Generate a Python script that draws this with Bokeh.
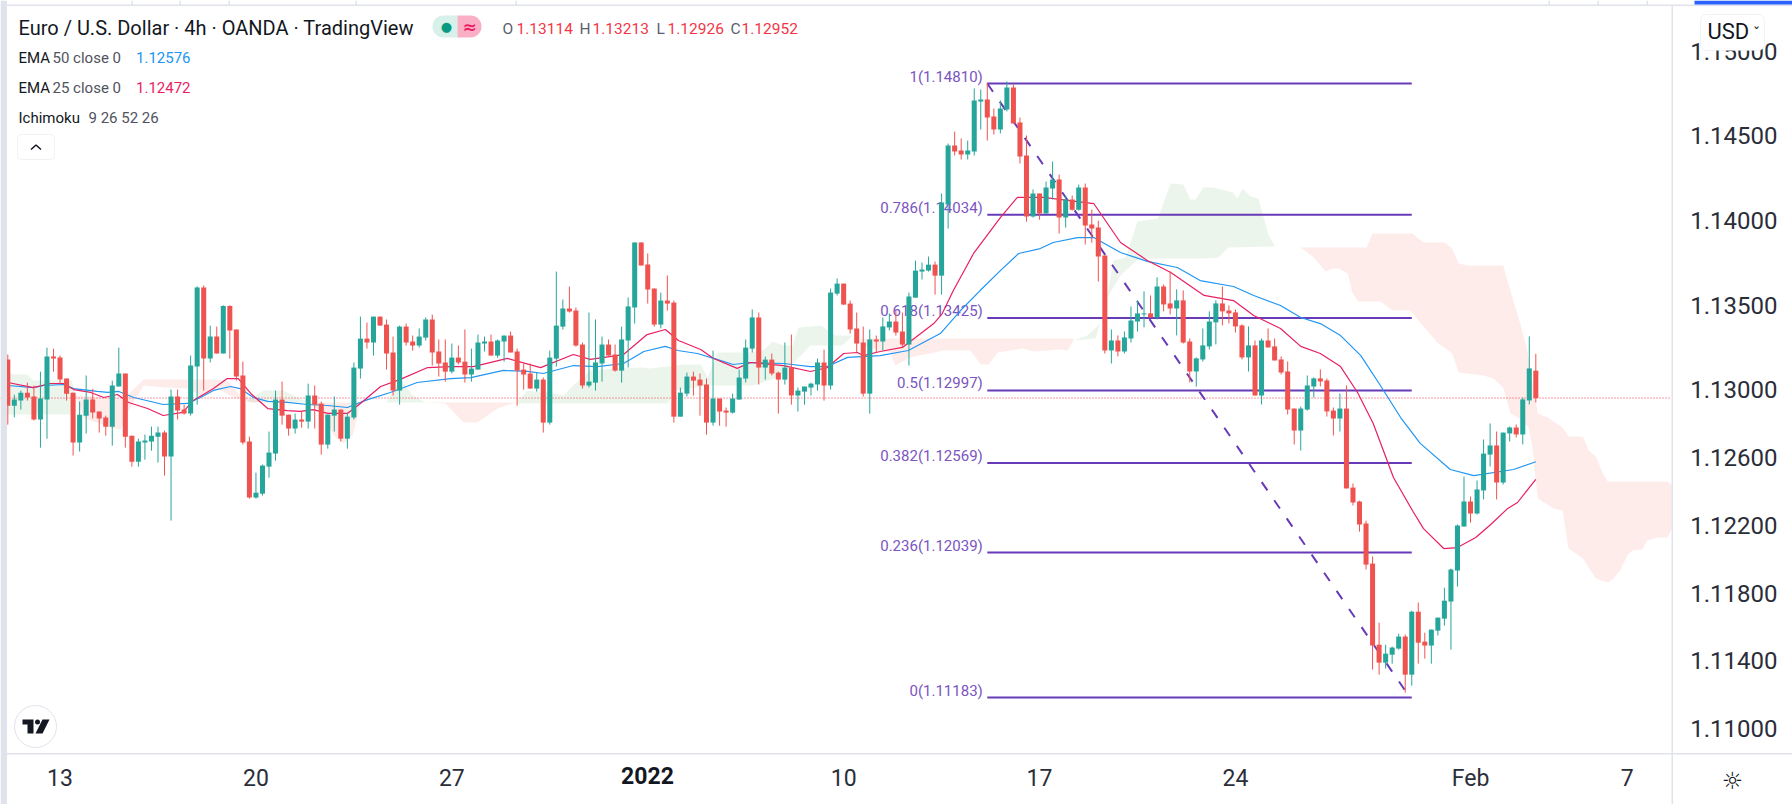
import numpy as np
from bokeh.core.properties import value
from bokeh.embed import file_html
from bokeh.models import BoxAnnotation, FixedTicker, Label, LinearAxis, NumeralTickFormatter, Range1d
from bokeh.plotting import figure
from bokeh.resources import INLINE

UP_COLOUR = "#26a69a"
DOWN_COLOUR = "#ef5350"
FIB_COLOUR = "#673ab7"
EDGE_COLOUR = "#e0e3eb"
TEXT_COLOUR = "#131722"
MUTED_COLOUR = "#50535e"
FONT = "Roboto"

opens = [
    1.13179, 1.12907, 1.12937, 1.12984, 1.12961, 1.12825, 1.12943, 1.13197, 1.13191, 1.13067,
    1.12984, 1.12689, 1.12848, 1.12943, 1.12872, 1.12837, 1.12783, 1.13020, 1.13097, 1.12730,
    1.12576, 1.12689, 1.12695, 1.12724, 1.12748, 1.12606, 1.12961, 1.12884, 1.12860, 1.13138,
    1.13605, 1.13185, 1.13315, 1.13215, 1.13495, 1.13357, 1.13085, 1.12695, 1.12364, 1.12387,
    1.12547, 1.12624, 1.12943, 1.12854, 1.12772, 1.12825, 1.12813, 1.12967, 1.12919, 1.12677,
    1.12848, 1.12884, 1.12712, 1.12837, 1.13126, 1.13303, 1.13280, 1.13433, 1.13386, 1.13221,
    1.12996, 1.13374, 1.13286, 1.13262, 1.13309, 1.13416, 1.13227, 1.13162, 1.13108, 1.13191,
    1.13167, 1.13091, 1.13120, 1.13274, 1.13286, 1.13203, 1.13286, 1.13321, 1.13227, 1.13120,
    1.13097, 1.13008, 1.13061, 1.12807, 1.13185, 1.13374, 1.13481, 1.13469, 1.13268, 1.13026,
    1.13043, 1.13156, 1.13268, 1.13209, 1.13114, 1.13292, 1.13487, 1.13871, 1.13741, 1.13599,
    1.13386, 1.13528, 1.13516, 1.12842, 1.12978, 1.13079, 1.13061, 1.13032, 1.12807, 1.12949,
    1.12878, 1.12866, 1.12943, 1.13067, 1.13244, 1.13428, 1.13132, 1.13179, 1.13102, 1.13061,
    1.13132, 1.12967, 1.12990, 1.13014, 1.13032, 1.13162, 1.13026, 1.13569, 1.13628, 1.13510,
    1.13363, 1.13280, 1.12978, 1.13298, 1.13286, 1.13369, 1.13404, 1.13345, 1.13268, 1.13545,
    1.13699, 1.13705, 1.13740, 1.13675, 1.14095, 1.14444, 1.14414, 1.14390, 1.14408, 1.14704,
    1.14716, 1.14615, 1.14538, 1.14656, 1.14786, 1.14580, 1.14385, 1.14024, 1.14160, 1.14042,
    1.14190, 1.14243, 1.14018, 1.14125, 1.14065, 1.14195, 1.13977, 1.13959, 1.13794, 1.13233,
    1.13292, 1.13227, 1.13304, 1.13404, 1.13446, 1.13452, 1.13428, 1.13611, 1.13511, 1.13481,
    1.13529, 1.13286, 1.13109, 1.13180, 1.13257, 1.13399, 1.13511, 1.13469, 1.13458, 1.13381,
    1.13192, 1.13263, 1.12967, 1.13292, 1.13257, 1.13180, 1.13109, 1.12890, 1.12760, 1.12884,
    1.13020, 1.13068, 1.13056, 1.12878, 1.12831, 1.12890, 1.12423, 1.12341, 1.12211, 1.11974,
    1.11495, 1.11389, 1.11436, 1.11472, 1.11543, 1.11318, 1.11690, 1.11513, 1.11490, 1.11578,
    1.11649, 1.11750, 1.11933, 1.12193, 1.12341, 1.12270, 1.12406, 1.12618, 1.12672, 1.12453,
    1.12743, 1.12778, 1.12737, 1.12938, 1.13114,
]
highs = [
    1.13209, 1.12972, 1.12996, 1.13043, 1.13026, 1.13108, 1.13250, 1.13244, 1.13203, 1.13067,
    1.12984, 1.12931, 1.13085, 1.13006, 1.12872, 1.12848, 1.13055, 1.13250, 1.13097, 1.12730,
    1.12712, 1.12736, 1.12783, 1.12783, 1.12760, 1.13002, 1.13002, 1.12913, 1.13203, 1.13612,
    1.13617, 1.13380, 1.13374, 1.13500, 1.13500, 1.13357, 1.13167, 1.12724, 1.12511, 1.12559,
    1.12754, 1.12996, 1.13049, 1.12854, 1.12860, 1.12872, 1.13037, 1.13026, 1.12931, 1.12854,
    1.12961, 1.12884, 1.12866, 1.13162, 1.13433, 1.13398, 1.13433, 1.13433, 1.13416, 1.13315,
    1.13380, 1.13392, 1.13321, 1.13363, 1.13428, 1.13445, 1.13298, 1.13298, 1.13274, 1.13262,
    1.13357, 1.13244, 1.13327, 1.13315, 1.13327, 1.13298, 1.13321, 1.13345, 1.13244, 1.13156,
    1.13156, 1.13102, 1.13073, 1.13232, 1.13699, 1.13534, 1.13611, 1.13487, 1.13280, 1.13457,
    1.13416, 1.13315, 1.13298, 1.13268, 1.13374, 1.13546, 1.13871, 1.13871, 1.13806, 1.13599,
    1.13575, 1.13676, 1.13528, 1.13014, 1.13102, 1.13108, 1.13097, 1.13067, 1.13232, 1.12949,
    1.12896, 1.12978, 1.13120, 1.13298, 1.13475, 1.13457, 1.13197, 1.13215, 1.13108, 1.13280,
    1.13327, 1.13014, 1.13020, 1.13043, 1.13185, 1.13238, 1.13599, 1.13658, 1.13628, 1.13528,
    1.13457, 1.13374, 1.13357, 1.13321, 1.13428, 1.13451, 1.13469, 1.13457, 1.13575, 1.13764,
    1.13752, 1.13788, 1.13758, 1.14160, 1.14455, 1.14526, 1.14485, 1.14473, 1.14781, 1.14775,
    1.14816, 1.14662, 1.14710, 1.14822, 1.14804, 1.14609, 1.14503, 1.14184, 1.14160, 1.14231,
    1.14349, 1.14272, 1.14148, 1.14148, 1.14213, 1.14219, 1.14065, 1.14000, 1.13794, 1.13357,
    1.13322, 1.13345, 1.13493, 1.13529, 1.13582, 1.13558, 1.13665, 1.13623, 1.13700, 1.13594,
    1.13588, 1.13304, 1.13192, 1.13363, 1.13464, 1.13529, 1.13611, 1.13499, 1.13475, 1.13387,
    1.13375, 1.13292, 1.13304, 1.13363, 1.13304, 1.13198, 1.13168, 1.12890, 1.12902, 1.13085,
    1.13074, 1.13121, 1.13068, 1.12896, 1.12979, 1.13026, 1.12447, 1.12346, 1.12228, 1.12016,
    1.11625, 1.11495, 1.11484, 1.11560, 1.11555, 1.11696, 1.11744, 1.11566, 1.11584, 1.11655,
    1.11832, 1.11945, 1.12205, 1.12488, 1.12370, 1.12465, 1.12707, 1.12802, 1.12754, 1.12748,
    1.12784, 1.12796, 1.12955, 1.13316, 1.13213,
]
lows = [
    1.12795, 1.12838, 1.12884, 1.12937, 1.12819, 1.12659, 1.12712, 1.13108, 1.13037, 1.12937,
    1.12612, 1.12636, 1.12742, 1.12831, 1.12748, 1.12730, 1.12671, 1.13020, 1.12659, 1.12547,
    1.12547, 1.12588, 1.12641, 1.12571, 1.12494, 1.12228, 1.12825, 1.12854, 1.12848, 1.12913,
    1.12996, 1.13162, 1.13215, 1.13215, 1.13185, 1.13055, 1.12677, 1.12358, 1.12358, 1.12376,
    1.12482, 1.12582, 1.12795, 1.12730, 1.12742, 1.12777, 1.12772, 1.12772, 1.12618, 1.12653,
    1.12754, 1.12695, 1.12653, 1.12825, 1.13067, 1.13244, 1.13203, 1.13380, 1.13120, 1.12967,
    1.12913, 1.13262, 1.13232, 1.13250, 1.13292, 1.13144, 1.13079, 1.13049, 1.13097, 1.13150,
    1.13043, 1.13049, 1.13120, 1.13227, 1.13203, 1.13191, 1.13167, 1.13221, 1.12907, 1.13002,
    1.13008, 1.12990, 1.12748, 1.12795, 1.13138, 1.13357, 1.13457, 1.13256, 1.13008, 1.13014,
    1.12996, 1.13049, 1.13203, 1.13108, 1.13043, 1.13132, 1.13392, 1.13735, 1.13510, 1.13374,
    1.13363, 1.13469, 1.12807, 1.12842, 1.12961, 1.12967, 1.12848, 1.12736, 1.12789, 1.12789,
    1.12783, 1.12860, 1.12943, 1.13043, 1.13221, 1.13032, 1.13061, 1.13085, 1.12860, 1.13032,
    1.12913, 1.12872, 1.12913, 1.12967, 1.12996, 1.12937, 1.13002, 1.13558, 1.13504, 1.13333,
    1.13221, 1.12961, 1.12860, 1.13221, 1.13233, 1.13351, 1.13321, 1.13251, 1.13144, 1.13545,
    1.13652, 1.13699, 1.13563, 1.13563, 1.13953, 1.14385, 1.14361, 1.14361, 1.14385, 1.14538,
    1.14473, 1.14509, 1.14515, 1.14645, 1.14574, 1.14337, 1.13994, 1.14018, 1.14006, 1.14042,
    1.14125, 1.13924, 1.13959, 1.14059, 1.14059, 1.13859, 1.13870, 1.13640, 1.13215, 1.13156,
    1.13198, 1.13215, 1.13280, 1.13345, 1.13369, 1.13428, 1.13416, 1.13464, 1.13446, 1.13322,
    1.13274, 1.13044, 1.13020, 1.13168, 1.13239, 1.13269, 1.13381, 1.13393, 1.13339, 1.13180,
    1.13109, 1.12967, 1.12914, 1.13251, 1.13174, 1.13091, 1.12855, 1.12678, 1.12642, 1.12878,
    1.12955, 1.13020, 1.12843, 1.12731, 1.12754, 1.12418, 1.12317, 1.12163, 1.11939, 1.11348,
    1.11318, 1.11354, 1.11383, 1.11466, 1.11212, 1.11253, 1.11383, 1.11413, 1.11383, 1.11549,
    1.11608, 1.11466, 1.11838, 1.12193, 1.12216, 1.12264, 1.12353, 1.12548, 1.12353, 1.12441,
    1.12695, 1.12719, 1.12678, 1.12914, 1.12926,
]
closes = [
    1.12907, 1.12943, 1.12984, 1.12955, 1.12825, 1.12949, 1.13197, 1.13185, 1.13061, 1.12978,
    1.12689, 1.12854, 1.12943, 1.12866, 1.12831, 1.12783, 1.13026, 1.13097, 1.12724, 1.12576,
    1.12695, 1.12701, 1.12730, 1.12748, 1.12606, 1.12961, 1.12878, 1.12860, 1.13144, 1.13605,
    1.13185, 1.13315, 1.13215, 1.13495, 1.13351, 1.13079, 1.12689, 1.12364, 1.12393, 1.12553,
    1.12630, 1.12943, 1.12848, 1.12772, 1.12825, 1.12813, 1.12967, 1.12913, 1.12677, 1.12854,
    1.12884, 1.12712, 1.12842, 1.13132, 1.13303, 1.13280, 1.13433, 1.13380, 1.13215, 1.12996,
    1.13374, 1.13280, 1.13262, 1.13315, 1.13416, 1.13221, 1.13156, 1.13108, 1.13191, 1.13162,
    1.13091, 1.13126, 1.13280, 1.13286, 1.13203, 1.13292, 1.13321, 1.13221, 1.13114, 1.13091,
    1.13008, 1.13061, 1.12807, 1.13191, 1.13380, 1.13481, 1.13463, 1.13262, 1.13026, 1.13049,
    1.13162, 1.13268, 1.13203, 1.13114, 1.13298, 1.13493, 1.13871, 1.13735, 1.13593, 1.13386,
    1.13528, 1.13510, 1.12842, 1.12984, 1.13079, 1.13055, 1.13026, 1.12807, 1.12949, 1.12872,
    1.12866, 1.12949, 1.13073, 1.13250, 1.13428, 1.13132, 1.13179, 1.13097, 1.13061, 1.13132,
    1.12967, 1.12996, 1.13020, 1.13037, 1.13162, 1.13026, 1.13575, 1.13628, 1.13504, 1.13357,
    1.13274, 1.12978, 1.13298, 1.13286, 1.13375, 1.13404, 1.13339, 1.13268, 1.13552, 1.13705,
    1.13711, 1.13740, 1.13675, 1.14107, 1.14444, 1.14408, 1.14390, 1.14414, 1.14710, 1.14716,
    1.14609, 1.14538, 1.14662, 1.14786, 1.14574, 1.14379, 1.14024, 1.14160, 1.14042, 1.14195,
    1.14243, 1.14018, 1.14125, 1.14065, 1.14195, 1.13971, 1.13953, 1.13788, 1.13233, 1.13292,
    1.13227, 1.13310, 1.13410, 1.13452, 1.13452, 1.13428, 1.13611, 1.13505, 1.13481, 1.13529,
    1.13280, 1.13109, 1.13186, 1.13263, 1.13404, 1.13511, 1.13464, 1.13452, 1.13375, 1.13192,
    1.13263, 1.12967, 1.13292, 1.13251, 1.13174, 1.13103, 1.12884, 1.12760, 1.12890, 1.13026,
    1.13068, 1.13050, 1.12873, 1.12831, 1.12890, 1.12418, 1.12335, 1.12205, 1.11968, 1.11490,
    1.11389, 1.11442, 1.11478, 1.11543, 1.11318, 1.11690, 1.11507, 1.11490, 1.11584, 1.11655,
    1.11755, 1.11939, 1.12199, 1.12341, 1.12270, 1.12412, 1.12624, 1.12672, 1.12453, 1.12748,
    1.12778, 1.12737, 1.12944, 1.13127, 1.12952,
]

ema50_x = [
    0, 3.9, 5.5, 8.5, 10.1, 13.7, 15.3, 17, 19.3, 23.8, 27.5, 29.5, 31.5, 34.1, 35.6, 37.6, 39.8,
    42.8, 45.9, 49, 52, 55.1, 58.6, 62.7, 67.8, 70.9, 75.9, 79.6, 82, 86.6, 90.3, 94.3, 97.4,
    100.7, 102.6, 105.6, 108.1, 111.1, 113.7, 118.8, 122.9, 125.5, 128.6, 133.6, 137.9, 142.8,
    145.9, 148.9, 152, 154.8, 158.1, 160.1, 163.8, 166.3, 170.4, 174.5, 179.1, 182.6, 187.7,
    190.8, 194.9, 198, 201, 204.1, 207.2, 210.2, 213.3, 216.3, 220.9, 224.5, 230.6, 234,
]
ema50_y = [
    1.13026, 1.13014, 1.13026, 1.13032, 1.13008, 1.12991, 1.12985, 1.12991, 1.12955, 1.12914,
    1.12920, 1.12955, 1.12997, 1.13020, 1.13008, 1.12955, 1.12932, 1.12926, 1.12914, 1.12908,
    1.12896, 1.12943, 1.12985, 1.13044, 1.13067, 1.13073, 1.13115, 1.13109, 1.13097, 1.13144,
    1.13138, 1.13156, 1.13227, 1.13257, 1.13233, 1.13215, 1.13186, 1.13150, 1.13162, 1.13156,
    1.13138, 1.13138, 1.13192, 1.13203, 1.13233, 1.13333, 1.13469, 1.13587, 1.13705, 1.13806,
    1.13835, 1.13871, 1.13900, 1.13900, 1.13812, 1.13759, 1.13723, 1.13646, 1.13611, 1.13558,
    1.13499, 1.13428, 1.13392, 1.13321, 1.13203, 1.13026, 1.12837, 1.12684, 1.12530, 1.12494,
    1.12530, 1.12576,
]
ema25_x = [
    0, 3.9, 6.5, 8.5, 10.1, 12.7, 14.7, 16.8, 18.5, 21.4, 23.8, 26.8, 28.4, 31.5, 33.6, 35.3,
    37.2, 39.8, 42.8, 44.8, 46.8, 49, 52, 54, 57.1, 60.1, 64.3, 67.8, 71.3, 76.5, 81.6, 86.6,
    89.2, 94.3, 97.9, 100.7, 102.7, 106.1, 108.1, 111.7, 113.7, 118.8, 122.9, 125.5, 128, 130.1,
    131, 133.6, 137, 141.8, 143.1, 144.8, 147.9, 152, 154.6, 158.6, 166.3, 170.4, 174.5, 178.1,
    183.2, 187.7, 190.8, 194.9, 198, 201, 204.1, 206.7, 209.1, 212.2, 215.1, 216.8, 219.9, 222,
    224.8, 227.1, 229.7, 231.2, 234,
]
ema25_y = [
    1.13044, 1.13014, 1.13038, 1.13038, 1.13002, 1.12985, 1.12955, 1.12973, 1.12926, 1.12890,
    1.12849, 1.12867, 1.12938, 1.13008, 1.13067, 1.13067, 1.12979, 1.12890, 1.12878, 1.12873,
    1.12884, 1.12861, 1.12861, 1.12920, 1.13020, 1.13062, 1.13132, 1.13138, 1.13138, 1.13186,
    1.13132, 1.13209, 1.13180, 1.13209, 1.13327, 1.13357, 1.13292, 1.13239, 1.13186, 1.13127,
    1.13162, 1.13144, 1.13109, 1.13132, 1.13215, 1.13221, 1.13203, 1.13227, 1.13251, 1.13392,
    1.13451, 1.13587, 1.13806, 1.14018, 1.14137, 1.14137, 1.14101, 1.13871, 1.13765, 1.13694,
    1.13558, 1.13528, 1.13440, 1.13363, 1.13257, 1.13215, 1.13138, 1.12985, 1.12802, 1.12483,
    1.12288, 1.12181, 1.12063, 1.12069, 1.12128, 1.12205, 1.12300, 1.12335, 1.12472,
]

# ichimoku cloud outlines, bar index against price
green_1_x = [0, 0.9, 3, 3.9, 9.8, 10.4, 9.6, 0]
green_1_y = [1.13103, 1.13091, 1.13091, 1.13056, 1.13056, 1.12967, 1.12855, 1.12855]
pink_1_x = [10.4, 16.5, 18, 20.8, 31.7, 33.8, 35.6, 39, 37.6, 34.6, 32.1, 29.5, 28, 23.8, 20.8, 18.5, 17.3, 15.7, 14.2, 11.7]
pink_1_y = [
    1.12967, 1.12955, 1.12955, 1.13062, 1.13062, 1.13050, 1.12967, 1.12932, 1.12926, 1.12955,
    1.13008, 1.12955, 1.13008, 1.13014, 1.13026, 1.12878, 1.12766, 1.12778, 1.12802, 1.12831,
]
green_2_x = [36.7, 39.2, 42.2, 43.8, 45.9, 36.7]
green_2_y = [1.12938, 1.12997, 1.12997, 1.12967, 1.12926, 1.12926]
pink_2_x = [45.9, 54, 53.6, 52.8, 51.4, 49.9, 47.9]
pink_2_y = [1.12926, 1.12926, 1.12849, 1.12731, 1.12684, 1.12731, 1.12878]
green_3_x = [58, 60.1, 62, 64]
green_3_y = [1.12926, 1.13067, 1.12967, 1.12926]
pink_3_x = [64, 78.1, 77.3, 75, 71.9, 69.8, 67]
pink_3_y = [1.12926, 1.12926, 1.12920, 1.12890, 1.12808, 1.12808, 1.12920]
green_4_x = [
    78.1, 79.6, 81.6, 83.1, 85.1, 86.6, 89.2, 93.4, 97.3, 98.4, 103.5, 106.1, 107.2, 108.7, 113.7,
    115.7, 117.1, 118.8, 120.2, 121.1, 124.5, 126.8, 129.4, 127.8, 122.9, 120.3, 117.9, 114.2,
    107.2, 102.3, 101, 78.1,
]
green_4_y = [
    1.12938, 1.12997, 1.12985, 1.12985, 1.12967, 1.13026, 1.13115, 1.13127, 1.13132, 1.13127,
    1.13150, 1.13150, 1.13073, 1.13221, 1.13221, 1.13233, 1.13286, 1.13262, 1.13262, 1.13369,
    1.13381, 1.13321, 1.13321, 1.13262, 1.13262, 1.13156, 1.13073, 1.13026, 1.13026, 1.12997,
    1.12920, 1.12920,
]
pink_4_x = [130.6, 163.2, 163.2, 162.3, 161.2, 157.1, 155.5, 151.6, 150.2, 149, 147.4, 143.3, 138.2, 135.9, 135.2, 133.6, 130.6]
pink_4_y = [
    1.13304, 1.13304, 1.13292, 1.13233, 1.13239, 1.13227, 1.13245, 1.13221, 1.13150, 1.13150,
    1.13233, 1.13233, 1.13192, 1.13144, 1.13221, 1.13233, 1.13262,
]
green_5_x = [
    163.2, 165.3, 167.3, 168.6, 169.3, 171.2, 173, 176.1, 178.1, 180, 181.1, 181.9, 183.1, 184.6,
    187.6, 188.3, 189.1, 190.3, 191.5, 193.1, 194.1, 186.9, 185.4, 183.1, 173.2, 170.4, 168.4, 166.6,
]
green_5_y = [
    1.13292, 1.13321, 1.13392, 1.13605, 1.13765, 1.13782, 1.13995, 1.14013, 1.14219, 1.14213,
    1.14125, 1.14125, 1.14196, 1.14196, 1.14166, 1.14131, 1.14190, 1.14143, 1.14131, 1.13912,
    1.13847, 1.13841, 1.13782, 1.13776, 1.13776, 1.13676, 1.13546, 1.13304,
]
pink_5_x = [
    194.1, 208.1, 209, 215.1, 216.8, 220, 221.2, 222.2, 223.5, 229, 230.1, 231.6, 232.7, 234.3,
    235.8, 238.1, 239, 241.2, 242.1, 243.2, 244.2, 245, 254.2, 254.9, 254.9, 254.2, 252.6, 251.1,
    250.3, 248.8, 248, 246.9, 245.9, 245, 243.2, 241.2, 239, 238.1, 236.7, 234.3, 234, 233.5,
    232.9, 231.3, 230.1, 229, 227.5, 226, 222.2, 221.2, 218.9, 216.3, 214.8, 212.1, 210.2, 206.8,
    205.9, 205.2, 203.8, 202.9, 201.8, 200, 198,
]
pink_5_y = [
    1.13841, 1.13841, 1.13924, 1.13924, 1.13871, 1.13871, 1.13835, 1.13747, 1.13735, 1.13735,
    1.13587, 1.13392, 1.13233, 1.12861, 1.12837, 1.12778, 1.12725, 1.12725, 1.12642, 1.12607,
    1.12512, 1.12459, 1.12459, 1.12435, 1.12187, 1.12128, 1.12128, 1.12111, 1.12057, 1.12051,
    1.12022, 1.11933, 1.11886, 1.11862, 1.11886, 1.12004, 1.12063, 1.12288, 1.12300, 1.12359,
    1.12465, 1.12660, 1.12778, 1.12837, 1.12861, 1.13014, 1.13067, 1.13085, 1.13103, 1.13215,
    1.13280, 1.13398, 1.13469, 1.13469, 1.13522, 1.13522, 1.13575, 1.13688, 1.13717, 1.13717,
    1.13700, 1.13782, 1.13841,
]
green_clouds = [(green_1_x, green_1_y), (green_2_x, green_2_y), (green_3_x, green_3_y), (green_4_x, green_4_y), (green_5_x, green_5_y)]
pink_clouds = [(pink_1_x, pink_1_y), (pink_2_x, pink_2_y), (pink_3_x, pink_3_y), (pink_4_x, pink_4_y), (pink_5_x, pink_5_y)]

fib_ratios = ["1", "0.786", "0.618", "0.5", "0.382", "0.236", "0"]
fib_prices = [1.14810, 1.14034, 1.13425, 1.12997, 1.12569, 1.12039, 1.11183]
fib_start = 150
fib_end = 215
trend_x = [150, 214]
trend_y = [1.14810, 1.11224]

y_ticks = [1.11, 1.114, 1.118, 1.122, 1.126, 1.13, 1.135, 1.14, 1.145, 1.15]
x_ticks = [8, 38, 68, 128, 158, 188, 224, 248]
x_tick_labels = ["13", "20", "27", "10", "17", "24", "Feb", "7"]
year_label = "2022"


# helpers for page furniture placed by window pixel, the price scale is linear
def sx(px):
    return (px - 7.3) / 6.53


def sy(py):
    return 1.11 + (728 - py) / 16929


def text(p, px, py, label, colour=TEXT_COLOUR, size=15.5, style="normal", align="left", font=FONT):
    p.add_layout(Label(
        x=px, y=py, x_units="canvas", y_units="canvas", text=label, text_color=colour, text_font=font,
        text_font_size=f"{size}px", text_font_style=style, text_align=align, text_baseline="middle",
    ))


def box(p, left, right, top, bottom, **kwargs):
    p.add_layout(BoxAnnotation(
        left=left, right=right, top=top, bottom=bottom, left_units="canvas", right_units="canvas",
        top_units="canvas", bottom_units="canvas", **kwargs
    ))


def plain_axis(axis, size):
    axis.axis_line_color = None
    axis.major_tick_line_color = None
    axis.minor_tick_line_color = None
    axis.major_tick_out = 0
    axis.major_tick_in = 0
    axis.minor_tick_out = 0
    axis.major_label_text_font = FONT
    axis.major_label_text_font_size = size
    axis.major_label_text_color = "#2a2e39"


# the frame fills the whole page, so the scales sit inside it and nothing gets clipped
p = figure(
    width=1792,
    height=804,
    output_backend="svg",
    toolbar_location=None,
    tools="",
    x_axis_type=None,
    y_axis_type=None,
    x_range=Range1d(sx(0), sx(1792)),
    y_range=Range1d(sy(804), sy(0)),
    min_border_left=0,
    min_border_top=0,
    min_border_right=0,
    min_border_bottom=0,
)
p.outline_line_color = None

for xs, ys in green_clouds:
    p.patch(xs, ys, fill_color="#43a047", fill_alpha=0.1, line_color=None)
for xs, ys in pink_clouds:
    p.patch(xs, ys, fill_color="#f44336", fill_alpha=0.1, line_color=None)

p.line([sx(0), sx(1671)], [closes[-1], closes[-1]], line_color="#f23645", line_width=1, line_dash=[1, 2])

p.segment(fib_start, fib_prices, fib_end, fib_prices, line_color=FIB_COLOUR, line_width=2)
p.line(trend_x, trend_y, line_color=FIB_COLOUR, line_width=2, line_dash=[10, 12])
p.text(
    x=[fib_start] * len(fib_prices),
    y=fib_prices,
    text=[f"{r}({v:.5f})" for r, v in zip(fib_ratios, fib_prices)],
    x_offset=-4.5,
    y_offset=-7,
    text_align="right",
    text_baseline="middle",
    text_font=value(FONT),
    text_font_size=value("15px"),
    text_color="#7a55c0",
)

p.line(ema50_x, ema50_y, line_color="#2196f3", line_width=1.2)
p.line(ema25_x, ema25_y, line_color="#e91e63", line_width=1.2)

bars = np.arange(len(opens))
o = np.array(opens)
c = np.array(closes)
colours = [UP_COLOUR if cl >= op else DOWN_COLOUR for op, cl in zip(opens, closes)]
p.segment(bars, highs, bars, lows, line_color=colours, line_width=1)
p.vbar(x=bars, width=0.77, top=np.maximum(o, c), bottom=np.minimum(o, c), fill_color=colours, line_color=None)

y_axis = LinearAxis(fixed_location=sx(1777), ticker=FixedTicker(ticks=y_ticks), formatter=NumeralTickFormatter(format="0.00000"))
plain_axis(y_axis, "24px")
y_axis.major_label_standoff = 0
p.add_layout(y_axis, "left")

x_axis = LinearAxis(fixed_location=sy(753), ticker=FixedTicker(ticks=x_ticks), major_label_overrides=dict(zip(x_ticks, x_tick_labels)))
plain_axis(x_axis, "23px")
x_axis.major_label_standoff = 11
p.add_layout(x_axis, "below")

# window edges, scale separators and the strip of the page above the chart
box(p, 0, 6.5, 0, 804, fill_color=EDGE_COLOUR, fill_alpha=1, line_color=None)
box(p, 0, 1792, 4, 5.5, fill_color=EDGE_COLOUR, fill_alpha=1, line_color=None)
for strip_x in (131, 179, 228, 355, 515, 1548, 1597, 1646):
    box(p, strip_x, strip_x + 1.5, 0, 5, fill_color=EDGE_COLOUR, fill_alpha=1, line_color=None)
box(p, 1694, 1792, 0, 4, fill_color="#2962ff", fill_alpha=1, line_color=None)
box(p, 1671, 1672.5, 5, 804, fill_color=EDGE_COLOUR, fill_alpha=1, line_color=None)
box(p, 6.5, 1792, 752.5, 754, fill_color=EDGE_COLOUR, fill_alpha=1, line_color=None)
text(p, 647, 775, year_label, size=23, style="bold", align="center")

# legend block
text(p, 18, 27, "Euro / U.S. Dollar · 4h · OANDA · TradingView", size=20)
box(p, 432, 457, 15, 37, fill_color="#d7f0ea", fill_alpha=1, line_color=None, border_radius=(11, 0, 0, 11))
box(p, 457, 481, 15, 37, fill_color="#f9b0c6", fill_alpha=1, line_color=None, border_radius=(0, 11, 11, 0))
text(p, 446, 26, "●", colour="#089981", size=13, align="center", font="DejaVu Sans")
text(p, 469, 26, "≈", colour="#e91e63", size=17, style="bold", align="center", font="DejaVu Sans")
for px_letter, letter, px_value, val in [(502, "O", 516, "1.13114"), (579, "H", 592, "1.13213"), (656, "L", 667, "1.12926"), (730, "C", 741, "1.12952")]:
    text(p, px_letter, 28, letter, colour="#5d606b")
    text(p, px_value, 28, val, colour="#f23645")
text(p, 18, 57, "EMA", size=15)
text(p, 52, 57, "50 close 0", colour=MUTED_COLOUR, size=15)
text(p, 135.5, 57, "1.12576", colour="#2196f3", size=15)
text(p, 18, 87, "EMA", size=15)
text(p, 52, 87, "25 close 0", colour=MUTED_COLOUR, size=15)
text(p, 135.5, 87, "1.12472", colour="#e91e63", size=15)
text(p, 18, 117, "Ichimoku", size=15)
text(p, 88, 117, "9 26 52 26", colour=MUTED_COLOUR, size=15)
box(p, 17, 54, 134, 159, fill_alpha=0, line_color="#d1d4dc", line_width=1, border_radius=4)
p.line([sx(30.5), sx(35.5), sx(40.5)], [sy(149), sy(144.5), sy(149)], line_color=TEXT_COLOUR, line_width=1.5)

# logo badge
p.scatter([sx(35)], [sy(726)], size=42, marker="circle", fill_color="white", line_color=EDGE_COLOUR, line_width=1)
p.patch([sx(v) for v in (22, 33, 33, 27, 27, 22)], [sy(v) for v in (719, 719, 733, 733, 724, 724)], fill_color=TEXT_COLOUR, line_color=None)
p.patch([sx(v) for v in (42, 49, 42, 35)], [sy(v) for v in (719, 719, 733, 733)], fill_color=TEXT_COLOUR, line_color=None)
p.scatter([sx(37)], [sy(721.5)], size=5, marker="circle", fill_color=TEXT_COLOUR, line_color=None)

# currency button and settings icon on the price scale
box(p, 1700, 1764, 14, 50, fill_color="white", fill_alpha=1, line_color="#d1d4dc", line_width=1, border_radius=6)
text(p, 1707, 31, "USD", size=22)
text(p, 1756, 33, "ˇ", size=16, align="center")
text(p, 1732, 780, "☼", size=24, align="center", font="DejaVu Sans")

open("out.html", "w").write(file_html(p, INLINE))
